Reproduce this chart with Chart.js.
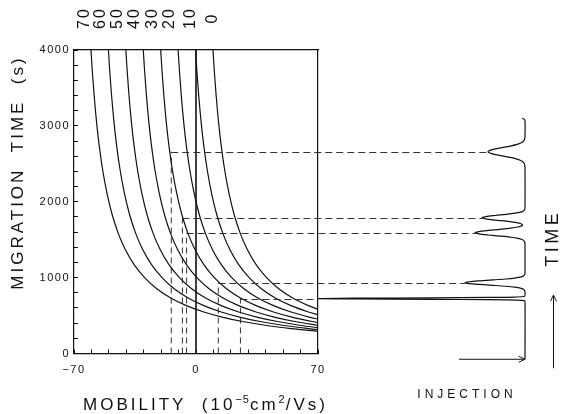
<!DOCTYPE html>
<html>
<head>
<meta charset="utf-8">
<title>Migration time vs mobility</title>
<script src="https://cdn.jsdelivr.net/npm/chart.js@4.4.0/dist/chart.umd.min.js"></script>
<style>
  html, body { margin: 0; padding: 0; background: #fff; }
  #wrap { width: 561px; height: 414px; }
</style>
</head>
<body>
<div id="wrap"><canvas id="migrationChart" width="561" height="414"></canvas></div>
<script>
"use strict";

// electroosmotic mobility of each curve and where its label sits (mobility units)
const eoLabels = ['70', '60', '50', '40', '30', '20', '10', '0'];
const eoLabelPos = [-64, -55, -45, -35, -25, -15, -3, 9.5];

// [mobility, migration time] along each curve
const curve70 = [[-60.25, 4000], [-59.5, 3727], [-58.5, 3417], [-57, 3037], [-55.5, 2733], [-53.5, 2412], [-51, 2103], [-48, 1822], [-44.5, 1577], [-40.5, 1367], [-35.5, 1171], [-29.5, 1000], [-22.5, 854], [-14.5, 732], [-5.5, 631], [4.5, 547], [15.5, 477], [27.5, 418], [40.5, 369], [54.5, 328], [70, 292]];
const curve60 = [[-50.25, 4000], [-49.5, 3727], [-48.5, 3417], [-47, 3037], [-45.5, 2733], [-43.5, 2412], [-41, 2103], [-38, 1822], [-34.5, 1577], [-30.5, 1367], [-25.5, 1171], [-19.5, 1000], [-12.5, 854], [-4.5, 732], [4.5, 631], [14.5, 547], [25.5, 477], [37.5, 418], [50.5, 369], [64.5, 328], [70, 314]];
const curve50 = [[-40.25, 4000], [-39.5, 3727], [-38.5, 3417], [-37, 3037], [-35.5, 2733], [-33.5, 2412], [-31, 2103], [-28, 1822], [-24.5, 1577], [-20.5, 1367], [-15.5, 1171], [-9.5, 1000], [-2.5, 854], [5.5, 732], [14.5, 631], [24.5, 547], [35.5, 477], [47.5, 418], [60.5, 369], [70, 340]];
const curve40 = [[-30.25, 4000], [-29.5, 3727], [-28.5, 3417], [-27, 3037], [-25.5, 2733], [-23.5, 2412], [-21, 2103], [-18, 1822], [-14.5, 1577], [-10.5, 1367], [-5.5, 1171], [0.5, 1000], [7.5, 854], [15.5, 732], [24.5, 631], [34.5, 547], [45.5, 477], [57.5, 418], [70, 371]];
const curve30 = [[-20.25, 4000], [-19.5, 3727], [-18.5, 3417], [-17, 3037], [-15.5, 2733], [-13.5, 2412], [-11, 2103], [-8, 1822], [-4.5, 1577], [-0.5, 1367], [4.5, 1171], [10.5, 1000], [17.5, 854], [25.5, 732], [34.5, 631], [44.5, 547], [55.5, 477], [67.5, 418], [70, 408]];
const curve20 = [[-10.25, 4000], [-9.5, 3727], [-8.5, 3417], [-7, 3037], [-5.5, 2733], [-3.5, 2412], [-1, 2103], [2, 1822], [5.5, 1577], [9.5, 1367], [14.5, 1171], [20.5, 1000], [27.5, 854], [35.5, 732], [44.5, 631], [54.5, 547], [65.5, 477], [70, 453]];
const curve10 = [[-0.25, 4000], [0.5, 3727], [1.5, 3417], [3, 3037], [4.5, 2733], [6.5, 2412], [9, 2103], [12, 1822], [15.5, 1577], [19.5, 1367], [24.5, 1171], [30.5, 1000], [37.5, 854], [45.5, 732], [54.5, 631], [64.5, 547], [70, 509]];
const curve0 = [[9.75, 4000], [10.5, 3727], [11.5, 3417], [13, 3037], [14.5, 2733], [16.5, 2412], [19, 2103], [22, 1822], [25.5, 1577], [29.5, 1367], [34.5, 1171], [40.5, 1000], [47.5, 854], [55.5, 732], [64.5, 631], [70, 582]];
const curves = [curve70, curve60, curve50, curve40, curve30, curve20, curve10, curve0];

// the five solutes: mobility, migration time and detector peak height
const analyteMob = [-14.2, -7.8, -5.4, 12.8, 25.5];
const analyteTime = [2659, 1789, 1592, 934, 724];
const analytePeak = [37, 43, 50, 60, 207];

// detector trace, time (s) against signal
const traceTime = [3100, 3088, 3072, 2860,
  2839, 2809, 2784, 2759, 2734, 2709, 2684, 2659, 2634, 2609, 2584, 2559, 2534, 2509, 2479, 2450,
  1920, 1899, 1879, 1864, 1849, 1834, 1819, 1804, 1789, 1774, 1759, 1744, 1729, 1714, 1699, 1689,
  1682, 1667, 1652, 1637, 1622, 1607, 1592, 1577, 1562, 1547, 1532, 1517, 1502, 1482, 1462, 1440,
  1060, 1044, 1024, 1009, 994, 982, 970, 958, 946, 934, 922, 910, 898, 886, 874, 859, 844, 824, 805,
  770, 751, 744, 739, 734, 729, 724, 719, 714, 709, 704, 697, 680, -76];
const traceSignal = [3, 0.8, 0, 0,
  0.2, 0.9, 2.8, 7.1, 14.6, 24.5, 33.4, 37, 33.4, 24.5, 14.6, 7.1, 2.8, 0.9, 0.2, 0,
  0, 0.3, 1.6, 4.3, 9.9, 18.8, 29.8, 39.2, 43, 39.2, 29.8, 18.8, 9.9, 4.6, 2.6, 2.6,
  3.4, 7.2, 14.4, 24.8, 36.6, 46.2, 50, 46.2, 36.6, 24.8, 14.4, 7.1, 3.0, 0.8, 0.1, 0,
  0, 0.2, 1.2, 3.8, 10.3, 19.5, 31.9, 45.3, 55.9, 60, 55.9, 45.3, 31.9, 19.5, 10.3, 3.8, 1.2, 0.2, 0,
  0, 0.7, 9.1, 35.6, 95, 170, 207, 170, 95, 35.6, 9.1, 0.7, 0, 0];

const mobTicks = [-70, 0, 70];
const timeTicks = [0, 1000, 2000, 3000, 4000];

const ink = '#111';
const dashInk = '#333';
const family = '"Liberation Sans", Arial, Helvetica, sans-serif';

function isTick(list, v) {
    return list.some(t => Math.abs(t - v) < 1e-6);
}

function drawSpaced(ctx, str, px, py, size, spacing, angle) {
    ctx.save();
    ctx.translate(px, py);
    ctx.rotate(angle || 0);
    ctx.font = size + 'px ' + family;
    ctx.letterSpacing = spacing + 'px';
    ctx.fillStyle = ink;
    ctx.textAlign = 'center';
    ctx.textBaseline = 'middle';
    ctx.fillText(str, spacing / 2, 0);
    ctx.restore();
}

function arrow(ctx, x1, y1, x2, y2) {
    const a = Math.atan2(y2 - y1, x2 - x1);
    ctx.beginPath();
    ctx.moveTo(x1, y1);
    ctx.lineTo(x2, y2);
    ctx.moveTo(x2 - 7 * Math.cos(a - 0.45), y2 - 7 * Math.sin(a - 0.45));
    ctx.lineTo(x2, y2);
    ctx.lineTo(x2 - 7 * Math.cos(a + 0.45), y2 - 7 * Math.sin(a + 0.45));
    ctx.stroke();
}

const annotate = {
    id: 'annotate',
    beforeDraw(chart) {
        chart.ctx.letterSpacing = '1.5px';
    },
    afterDraw(chart) {
        const {ctx, scales: {x, y, sig}} = chart;
        ctx.letterSpacing = '0px';
        ctx.save();

        // horizontal guides from each solute to its peak
        ctx.strokeStyle = dashInk;
        ctx.lineWidth = 1;
        ctx.setLineDash([7, 4]);
        analyteTime.forEach((t, i) => {
            const py = Math.round(y.getPixelForValue(t)) + 0.5;
            ctx.beginPath();
            ctx.moveTo(x.getPixelForValue(analyteMob[i]), py);
            ctx.lineTo(sig.getPixelForValue(analytePeak[i]), py);
            ctx.stroke();
        });
        ctx.setLineDash([]);

        // injection mark and time direction
        ctx.strokeStyle = ink;
        ctx.lineWidth = 1;
        const injY = y.getPixelForValue(traceTime[traceTime.length - 1]);
        arrow(ctx, sig.getPixelForValue(66), injY, sig.getPixelForValue(0), injY);
        const tx = Math.round(sig.getPixelForValue(-28)) + 0.5;
        arrow(ctx, tx, y.getPixelForValue(-195), tx, y.getPixelForValue(771));
        ctx.restore();

        // curve labels
        eoLabels.forEach((lab, i) => {
            drawSpaced(ctx, lab, x.getPixelForValue(eoLabelPos[i]), 19, 16, 2, -Math.PI / 2);
        });

        drawSpaced(ctx, 'MIGRATION  TIME  (s)', 18.5, 174, 17, 3, -Math.PI / 2);
        drawSpaced(ctx, 'TIME', 553, 240, 18, 3.5, -Math.PI / 2);
        drawSpaced(ctx, 'INJECTION', 465, 395, 12, 4, 0);

        // x title with superscripts
        const parts = [['MOBILITY  (10', false], ['\u22125', true], ['cm', false], ['2', true], ['/Vs)', false]];
        ctx.save();
        ctx.fillStyle = ink;
        ctx.textBaseline = 'alphabetic';
        let total = 0;
        parts.forEach(p => {
            ctx.font = (p[1] ? 11 : 17) + 'px ' + family;
            ctx.letterSpacing = (p[1] ? 1 : 3) + 'px';
            total += ctx.measureText(p[0]).width;
        });
        let cx = 205.5 - total / 2;
        parts.forEach(p => {
            ctx.font = (p[1] ? 11 : 17) + 'px ' + family;
            ctx.letterSpacing = (p[1] ? 1 : 3) + 'px';
            ctx.fillText(p[0], cx, p[1] ? 403 : 410);
            cx += ctx.measureText(p[0]).width;
        });
        ctx.restore();
    }
};

const datasets = curves.map(c => ({
    data: c.map(p => ({x: p[0], y: p[1]})),
    showLine: true,
    borderColor: ink,
    borderWidth: 1.2,
    pointRadius: 0,
    cubicInterpolationMode: 'monotone'
}));

// zero mobility
datasets.push({
    data: [{x: 0, y: 0}, {x: 0, y: 4000}],
    showLine: true,
    borderColor: ink,
    borderWidth: 1.6,
    pointRadius: 0
});

// vertical guides from each solute mobility
analyteMob.forEach((m, i) => {
    datasets.push({
        data: [{x: m, y: 0}, {x: m, y: analyteTime[i]}],
        showLine: true,
        borderColor: dashInk,
        borderWidth: 1,
        borderDash: [6, 4],
        pointRadius: 0
    });
});

// electropherogram, drawn to the right of the frame
datasets.push({
    data: traceTime.map((t, i) => ({x: traceSignal[i], y: t})),
    xAxisID: 'sig',
    showLine: true,
    borderColor: ink,
    borderWidth: 1.2,
    pointRadius: 0,
    tension: 0.3,
    clip: false
});

const tickFont = {family: family, size: 11};

new Chart(document.getElementById('migrationChart'), {
    type: 'scatter',
    data: {datasets: datasets},
    options: {
        responsive: false,
        animation: false,
        devicePixelRatio: 1,
        events: [],
        layout: {padding: {top: 50, right: 243, left: 0, bottom: 0}},
        plugins: {legend: {display: false}, tooltip: {enabled: false}},
        scales: {
            x: {
                type: 'linear',
                position: 'bottom',
                min: -70,
                max: 70,
                ticks: {
                    stepSize: 10,
                    autoSkip: false,
                    maxRotation: 0,
                    padding: 14,
                    color: ink,
                    font: tickFont,
                    callback: v => isTick(mobTicks, v) ? String(Math.round(v)).replace('-', '\u2212') : ''
                },
                grid: {drawOnChartArea: false, tickLength: -4, color: ink, lineWidth: 1},
                border: {color: ink, width: 1.2},
                afterFit: s => { s.height = 60.5; }
            },
            y: {
                type: 'linear',
                position: 'left',
                min: 0,
                max: 4000,
                ticks: {
                    stepSize: 200,
                    autoSkip: false,
                    padding: 8,
                    color: ink,
                    font: tickFont,
                    callback: v => isTick(timeTicks, v) ? String(v) : ''
                },
                grid: {drawOnChartArea: false, tickLength: -4, color: ink, lineWidth: 1},
                border: {color: ink, width: 1.2},
                afterFit: s => { s.width = 74; }
            },
            x2: {
                type: 'linear',
                position: 'top',
                min: 0,
                max: 1,
                ticks: {display: false},
                grid: {drawOnChartArea: false, drawTicks: false},
                border: {color: ink, width: 1.2},
                afterFit: s => { s.height = 0; }
            },
            y2: {
                type: 'linear',
                position: 'right',
                min: 0,
                max: 1,
                ticks: {display: false},
                grid: {drawOnChartArea: false, drawTicks: false},
                border: {color: ink, width: 1.2},
                afterFit: s => { s.width = 0; }
            },
            sig: {
                type: 'linear',
                display: false,
                reverse: true,
                min: 207,
                max: 451
            }
        }
    },
    plugins: [annotate]
});
</script>
</body>
</html>
